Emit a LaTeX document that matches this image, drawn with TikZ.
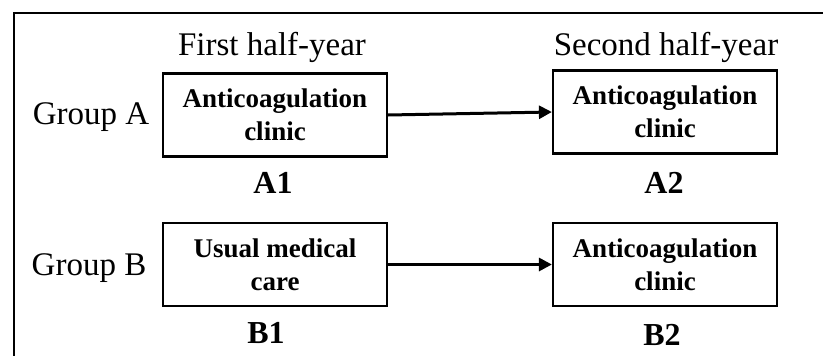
\documentclass[tikz,border=0pt]{standalone}
\usepackage{fontspec}
\setmainfont{Liberation Serif}
\usetikzlibrary{arrows.meta}
\begin{document}
\begin{tikzpicture}[x=1pt,y=-1pt,
  stage/.style={draw, line width=2.2pt, minimum width=224pt, minimum height=83pt, align=center,
    font=\fontsize{27}{33}\selectfont\bfseries, inner sep=0pt},
  head/.style={font=\fontsize{33}{36}\selectfont, anchor=base},
  tag/.style={font=\fontsize{32}{36}\selectfont\bfseries, anchor=base},
  flow/.style={line width=3pt, -{Triangle[length=13pt,width=13pt]}}]
\useasboundingbox (0,0) rectangle (823,356);
\clip (0,0) rectangle (823,356);
\draw[line width=2.4pt] (14,13) rectangle (840,380);
\node[head] (h1) at (272,55) {First half-year};
\node[head] (h2) at (666,55) {Second half-year};
\node[head] (ga) at (91,124) {Group A};
\node[head] (gb) at (89,275) {Group B};
\node[stage] (A1) at (275,115) {Anticoagulation\\clinic};
\node[stage] (A2) at (665,112) {Anticoagulation\\clinic};
\node[stage] (B1) at (275,264.5) {Usual medical\\care};
\node[stage] (B2) at (665,264.5) {Anticoagulation\\clinic};
\node[tag] (a1) at (273,193) {A1};
\node[tag] (a2) at (664,193) {A2};
\node[tag] (b1) at (266,343) {B1};
\node[tag] (b2) at (662,345) {B2};
\draw[flow] (A1.east) -- (A2.west);
\draw[flow] (B1.east) -- (B2.west);
\end{tikzpicture}
\end{document}
